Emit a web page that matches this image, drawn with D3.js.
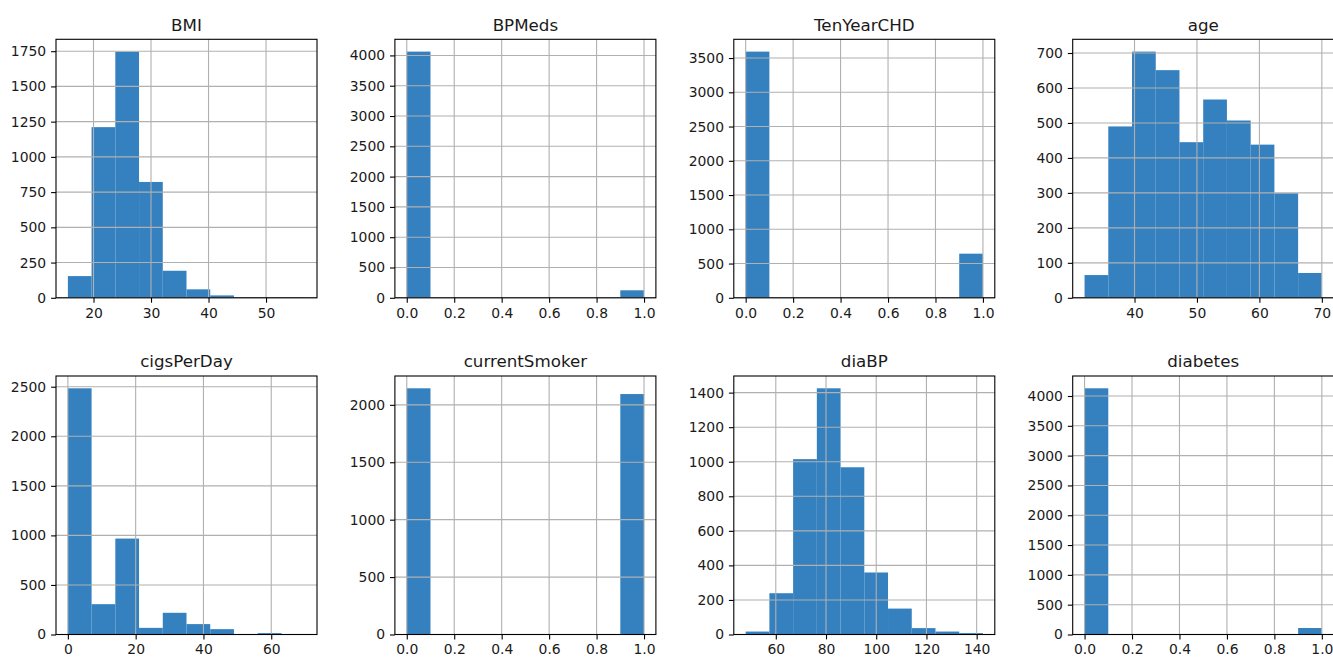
<!DOCTYPE html>
<html>
<head>
<meta charset="utf-8">
<script src="https://cdn.jsdelivr.net/npm/d3@7/dist/d3.min.js"></script>
<style>
  html, body { margin: 0; padding: 0; background: #fff; overflow: hidden; }
  svg { display: block; font-family: "DejaVu Sans", sans-serif; }
</style>
</head>
<body>
<svg id="chart" width="1333" height="659"></svg>
<script>
// Column names, in grid order (row by row)
const columns = ["BMI", "BPMeds", "TenYearCHD", "age", "cigsPerDay", "currentSmoker", "diaBP", "diabetes"];

// Value range [min, max] of each column; every histogram has 10 equal bins over it
const bmiRange = [15.54, 56.8];
const bpMedsRange = [0, 1];
const tenYearChdRange = [0, 1];
const ageRange = [32, 70];
const cigsRange = [0, 70];
const smokerRange = [0, 1];
const diaBpRange = [48, 142.5];
const diabetesRange = [0, 1];

// Counts per bin
const bmiCounts = [154, 1211, 1747, 822, 192, 60, 17, 4, 2, 2];
const bpMedsCounts = [4063, 0, 0, 0, 0, 0, 0, 0, 0, 124];
const tenYearChdCounts = [3594, 0, 0, 0, 0, 0, 0, 0, 0, 644];
const ageCounts = [65, 490, 704, 651, 445, 567, 507, 438, 299, 71];
const cigsCounts = [2484, 306, 968, 67, 219, 105, 54, 0, 14, 2];
const smokerCounts = [2144, 0, 0, 0, 0, 0, 0, 0, 0, 2094];
const diaBpCounts = [17, 239, 1015, 1425, 968, 359, 150, 37, 17, 8];
const diabetesCounts = [4129, 0, 0, 0, 0, 0, 0, 0, 0, 109];

// Tick values for each axis
const bmiXTicks = [20, 30, 40, 50];
const bmiYTicks = [0, 250, 500, 750, 1000, 1250, 1500, 1750];
const unitXTicks = [0, 0.2, 0.4, 0.6, 0.8, 1.0];
const bpMedsYTicks = [0, 500, 1000, 1500, 2000, 2500, 3000, 3500, 4000];
const tenYearChdYTicks = [0, 500, 1000, 1500, 2000, 2500, 3000, 3500];
const ageXTicks = [40, 50, 60, 70];
const ageYTicks = [0, 100, 200, 300, 400, 500, 600, 700];
const cigsXTicks = [0, 20, 40, 60];
const cigsYTicks = [0, 500, 1000, 1500, 2000, 2500];
const smokerYTicks = [0, 500, 1000, 1500, 2000];
const diaBpXTicks = [60, 80, 100, 120, 140];
const diaBpYTicks = [0, 200, 400, 600, 800, 1000, 1200, 1400];
const diabetesYTicks = [0, 500, 1000, 1500, 2000, 2500, 3000, 3500, 4000];

const panels = [
  { title: columns[0], range: bmiRange, counts: bmiCounts, xTicks: bmiXTicks, yTicks: bmiYTicks, xFmt: d3.format("d") },
  { title: columns[1], range: bpMedsRange, counts: bpMedsCounts, xTicks: unitXTicks, yTicks: bpMedsYTicks, xFmt: d3.format(".1f") },
  { title: columns[2], range: tenYearChdRange, counts: tenYearChdCounts, xTicks: unitXTicks, yTicks: tenYearChdYTicks, xFmt: d3.format(".1f") },
  { title: columns[3], range: ageRange, counts: ageCounts, xTicks: ageXTicks, yTicks: ageYTicks, xFmt: d3.format("d") },
  { title: columns[4], range: cigsRange, counts: cigsCounts, xTicks: cigsXTicks, yTicks: cigsYTicks, xFmt: d3.format("d") },
  { title: columns[5], range: smokerRange, counts: smokerCounts, xTicks: unitXTicks, yTicks: smokerYTicks, xFmt: d3.format(".1f") },
  { title: columns[6], range: diaBpRange, counts: diaBpCounts, xTicks: diaBpXTicks, yTicks: diaBpYTicks, xFmt: d3.format("d") },
  { title: columns[7], range: diabetesRange, counts: diabetesCounts, xTicks: unitXTicks, yTicks: diabetesYTicks, xFmt: d3.format(".1f") }
];

// Grid layout of the subplots
const layout = {
  left0: 56, colStep: 338.9, width: 261,
  rowTops: [39.3, 376], height: 258.5
};
const barColor = "#3581c0";
const gridColor = "#b0b0b0";
const textColor = "#1a1a1a";
const tickFont = 13.9;
const titleFont = 16.7;

const svg = d3.select("#chart");

panels.forEach((p, i) => {
  const col = i % 4, row = Math.floor(i / 4);
  const x0 = layout.left0 + col * layout.colStep;
  const y0 = layout.rowTops[row];
  const w = layout.width, h = layout.height;

  const binW = (p.range[1] - p.range[0]) / p.counts.length;
  const bins = p.counts.map((c, k) => ({
    x0: p.range[0] + k * binW,
    x1: p.range[0] + (k + 1) * binW,
    count: c
  }));

  // 5% margins on both axes, like the default autoscaling of a histogram
  const span = p.range[1] - p.range[0];
  const x = d3.scaleLinear()
    .domain([p.range[0] - 0.05 * span, p.range[1] + 0.05 * span])
    .range([0, w]);
  const yMax = d3.max(p.counts) * 1.05;
  const y = d3.scaleLinear().domain([0, yMax]).range([h, 0]);

  const g = svg.append("g").attr("transform", `translate(${x0},${y0})`);

  // bars
  g.append("g").selectAll("rect")
    .data(bins.filter(b => b.count > 0))
    .join("rect")
    .attr("x", b => x(b.x0))
    .attr("width", b => x(b.x1) - x(b.x0))
    .attr("y", b => y(b.count))
    .attr("height", b => y(0) - y(b.count))
    .attr("fill", barColor);

  // grid lines, drawn above the bars
  const grid = g.append("g").attr("stroke", gridColor).attr("stroke-width", 1.1);
  grid.selectAll("line.vx")
    .data(p.xTicks)
    .join("line")
    .attr("class", "vx")
    .attr("x1", d => x(d)).attr("x2", d => x(d))
    .attr("y1", 0).attr("y2", h);
  grid.selectAll("line.hy")
    .data(p.yTicks)
    .join("line")
    .attr("class", "hy")
    .attr("x1", 0).attr("x2", w)
    .attr("y1", d => y(d)).attr("y2", d => y(d));

  // axes
  const xAxis = d3.axisBottom(x).tickValues(p.xTicks).tickFormat(p.xFmt)
    .tickSize(4.9).tickPadding(5.2).tickSizeOuter(0);
  const yAxis = d3.axisLeft(y).tickValues(p.yTicks).tickFormat(d3.format("d"))
    .tickSize(4.9).tickPadding(4.9).tickSizeOuter(0);

  const gx = g.append("g").attr("transform", `translate(0,${h})`).call(xAxis);
  const gy = g.append("g").call(yAxis);
  [gx, gy].forEach(a => {
    a.select(".domain").remove();
    a.selectAll(".tick line").attr("stroke", "#000").attr("stroke-width", 1.1);
    a.selectAll(".tick text")
      .attr("fill", textColor)
      .attr("font-size", tickFont)
      .attr("font-family", "DejaVu Sans, sans-serif");
  });

  // spines
  g.append("rect")
    .attr("x", 0).attr("y", 0).attr("width", w).attr("height", h)
    .attr("fill", "none").attr("stroke", "#000").attr("stroke-width", 1.1);

  // title
  g.append("text")
    .attr("x", w / 2).attr("y", -8.8)
    .attr("text-anchor", "middle")
    .attr("fill", textColor)
    .attr("font-size", titleFont)
    .text(p.title);
});
</script>
</body>
</html>
